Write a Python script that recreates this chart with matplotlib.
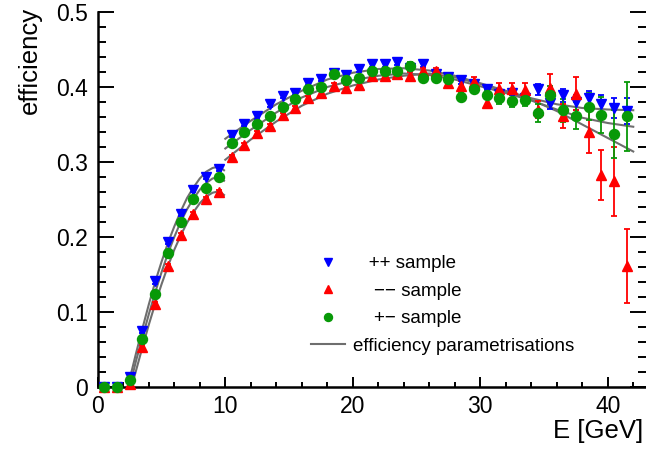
import matplotlib.pyplot as plt
import numpy as np
from matplotlib.ticker import MultipleLocator, FuncFormatter

plt.rcParams['font.family'] = ['Liberation Sans', 'DejaVu Sans']

# bin centres in E [GeV]
energy = [0.5, 1.5, 2.5, 3.5, 4.5, 5.5, 6.5, 7.5, 8.5, 9.5,
          10.5, 11.5, 12.5, 13.5, 14.5, 15.5, 16.5, 17.5, 18.5, 19.5,
          20.5, 21.5, 22.5, 23.5, 24.5, 25.5, 26.5, 27.5, 28.5, 29.5,
          30.5, 31.5, 32.5, 33.5, 34.5, 35.5, 36.5, 37.5, 38.5, 39.5,
          40.5, 41.5]

# ++ sample
eff_pp = [0, 0, 0.014, 0.075, 0.141, 0.194, 0.231, 0.263, 0.280, 0.291,
          0.336, 0.351, 0.361, 0.377, 0.388, 0.392, 0.406, 0.411, 0.419, 0.416,
          0.424, 0.431, 0.431, 0.433, 0.426, 0.431, 0.417, 0.413, 0.409, 0.404,
          0.397, 0.391, 0.392, 0.386, 0.397, 0.379, 0.389, 0.380, 0.385, 0.378,
          0.372, 0.368]
err_pp = [0, 0, 0.003, 0.003, 0.003, 0.003, 0.003, 0.003, 0.003, 0.003,
          0.003, 0.003, 0.003, 0.003, 0.003, 0.003, 0.003, 0.003, 0.003, 0.003,
          0.004, 0.004, 0.004, 0.004, 0.004, 0.004, 0.004, 0.004, 0.005, 0.005,
          0.006, 0.006, 0.006, 0.007, 0.007, 0.008, 0.009, 0.010, 0.010, 0.012,
          0.013, 0.017]

# -- sample
eff_mm = [0, 0, 0.004, 0.053, 0.111, 0.161, 0.203, 0.231, 0.251, 0.260,
          0.307, 0.323, 0.339, 0.348, 0.363, 0.372, 0.385, 0.392, 0.402, 0.399,
          0.403, 0.415, 0.415, 0.417, 0.415, 0.421, 0.421, 0.406, 0.402, 0.407,
          0.379, 0.398, 0.397, 0.396, 0.370, 0.399, 0.362, 0.391, 0.340, 0.283,
          0.274, 0.161]
err_mm = [0, 0, 0.003, 0.003, 0.003, 0.003, 0.003, 0.003, 0.003, 0.003,
          0.003, 0.003, 0.003, 0.003, 0.003, 0.003, 0.003, 0.003, 0.004, 0.004,
          0.004, 0.004, 0.004, 0.004, 0.005, 0.005, 0.005, 0.005, 0.006, 0.007,
          0.007, 0.008, 0.008, 0.010, 0.011, 0.018, 0.016, 0.022, 0.028, 0.033,
          0.046, 0.049]

# +- sample
eff_pm = [0, 0, 0.009, 0.064, 0.124, 0.179, 0.220, 0.251, 0.265, 0.280,
          0.326, 0.340, 0.351, 0.361, 0.373, 0.384, 0.397, 0.400, 0.418, 0.409,
          0.412, 0.422, 0.422, 0.422, 0.428, 0.412, 0.412, 0.411, 0.387, 0.398,
          0.390, 0.385, 0.382, 0.383, 0.366, 0.389, 0.369, 0.362, 0.374, 0.363,
          0.337, 0.361]
err_pm = [0, 0, 0.003, 0.003, 0.003, 0.003, 0.003, 0.003, 0.003, 0.003,
          0.003, 0.003, 0.003, 0.003, 0.003, 0.003, 0.003, 0.003, 0.004, 0.004,
          0.004, 0.004, 0.004, 0.004, 0.005, 0.005, 0.005, 0.005, 0.006, 0.006,
          0.006, 0.007, 0.008, 0.008, 0.012, 0.012, 0.015, 0.018, 0.018, 0.024,
          0.032, 0.046]

# efficiency parametrisations (low and high energy pieces)
fit_lo_start = [2.35, 2.5, 2.65]   # where each curve leaves zero (++, +-, --)
fit_lo_e = [3.0, 3.5, 4.0, 4.5, 5.0, 5.5, 6.0, 6.5, 7.0, 7.5, 8.0, 8.5, 9.0, 9.5, 9.9]
fit_lo_pp = [0.045, 0.078, 0.110, 0.140, 0.167, 0.192, 0.214, 0.234, 0.252, 0.266,
             0.278, 0.287, 0.292, 0.294, 0.289]
fit_lo_pm = [0.035, 0.066, 0.097, 0.126, 0.153, 0.178, 0.200, 0.220, 0.237, 0.251,
             0.263, 0.272, 0.278, 0.280, 0.275]
fit_lo_mm = [0.022, 0.053, 0.083, 0.111, 0.137, 0.161, 0.183, 0.202, 0.219, 0.233,
             0.245, 0.254, 0.259, 0.261, 0.256]

fit_hi_e = [10, 12, 14, 16, 18, 20, 22, 24, 26, 28, 30, 32, 34, 36, 38, 40, 42]
fit_hi_pp = [0.331, 0.355, 0.377, 0.395, 0.410, 0.419, 0.424, 0.425, 0.422, 0.415,
             0.405, 0.395, 0.385, 0.377, 0.372, 0.370, 0.369]
fit_hi_pm = [0.318, 0.343, 0.366, 0.386, 0.400, 0.409, 0.415, 0.418, 0.416, 0.410,
             0.401, 0.392, 0.382, 0.370, 0.359, 0.352, 0.347]
fit_hi_mm = [0.303, 0.330, 0.354, 0.375, 0.391, 0.402, 0.410, 0.415, 0.418, 0.413,
             0.404, 0.394, 0.383, 0.368, 0.350, 0.332, 0.314]


fig = plt.figure(figsize=(6.46, 4.5), dpi=100)
W, H = 646., 450.
ax = fig.add_axes([97.8/W, 63/H, (W-97.8)/W, 375/H])

fitcol = '#6e6e6e'
line = None
for start, lo, hi in [(fit_lo_start[0], fit_lo_pp, fit_hi_pp),
                      (fit_lo_start[1], fit_lo_pm, fit_hi_pm),
                      (fit_lo_start[2], fit_lo_mm, fit_hi_mm)]:
	line, = ax.plot([start] + fit_lo_e, [0] + lo, color=fitcol, lw=1.5, zorder=2)
	ax.plot(fit_hi_e, hi, color=fitcol, lw=1.5, zorder=2)

handles = []
for y, err, fmt, col, ms in [(eff_pp, err_pp, 'v', 'blue', 7),
                             (eff_mm, err_mm, '^', 'red', 7),
                             (eff_pm, err_pm, 'o', '#079907', 7.2)]:
	eb = ax.errorbar(energy, y, yerr=err, fmt=fmt, color=col, ms=ms, mec=col,
	                 elinewidth=1.3, capsize=2, capthick=1.3, zorder=3)
	for art in eb.lines[0:1] + eb.lines[1] + eb.lines[2]:
		art.set_clip_on(False)
	handles.append(eb.lines[0])

ax.set_xlim(0, 43)
ax.set_ylim(0, 0.5)
ax.xaxis.set_major_locator(MultipleLocator(10))
ax.xaxis.set_minor_locator(MultipleLocator(2))
ax.yaxis.set_major_locator(MultipleLocator(0.1))
ax.yaxis.set_minor_locator(MultipleLocator(0.02))
ax.yaxis.set_major_formatter(FuncFormatter(lambda v, p: f'{v:g}'))

ax.spines['top'].set_visible(False)
ax.spines['right'].set_visible(False)
for s in ['left', 'bottom']:
	ax.spines[s].set_linewidth(1.8)
ax.tick_params(which='both', direction='in', top=False, right=True,
               labelsize=16.5, width=1.4, color='black')
ax.tick_params(axis='y', which='major', length=11.5, pad=7)
ax.tick_params(axis='y', which='minor', length=5.8)
ax.tick_params(axis='x', which='major', length=7.2, pad=6)
ax.tick_params(axis='x', which='minor', length=3.6)

ax.set_xlabel('E [GeV]', fontsize=18.5, loc='right')
ax.xaxis.set_label_coords(0.9945, -0.085)
ax.set_ylabel('efficiency', fontsize=18.5, loc='top')
ax.yaxis.set_label_coords(-0.102, 1.013)

labels = ['   ++ sample', '    \u2212\u2212 sample', '    +\u2212 sample',
          'efficiency parametrisations']
ax.legend(handles + [line], labels, loc='upper left', bbox_to_anchor=(0.389, 0.351),
          frameon=False, fontsize=13.5, borderpad=0, borderaxespad=0,
          handlelength=1.8, handletextpad=0.43, labelspacing=0.55, markerscale=0.8)

fig.savefig('out.png', dpi=100)
